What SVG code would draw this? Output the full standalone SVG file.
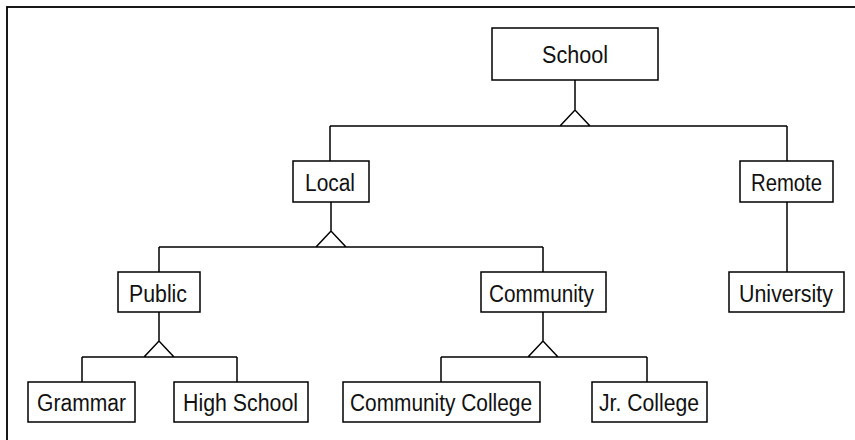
<svg xmlns="http://www.w3.org/2000/svg" width="855" height="440" viewBox="0 0 855 440">
<style>
.box{fill:#fff;stroke:#000;stroke-width:1.5}
.lbl{font-family:"Liberation Sans",Arial,sans-serif;font-size:23px;fill:#111;text-anchor:middle}
.ln{fill:none;stroke:#000;stroke-width:1.5}
</style>
<rect x="7" y="7" width="870" height="450" fill="#fff" stroke="#000" stroke-width="1.8"/>
<g id="connectors" class="ln">
<path d="M575 80V110M560 126L575 110L590 126M330 126H787M330 126V161M787 126V161"/>
<path d="M331 202V231M316 247L331 231L346 247M159 247H543M159 247V272M543 247V272"/>
<path d="M787 202V272"/>
<path d="M159 312V341M144 357L159 341L174 357M82 357H237M82 357V382M237 357V382"/>
<path d="M543 312V341M528 357L543 341L558 357M441 357H647M441 357V382M647 357V382"/>
</g>
<g id="school"><rect class="box" x="492" y="28" width="166" height="52"/><text class="lbl" x="575" y="63" textLength="66" lengthAdjust="spacingAndGlyphs">School</text></g>
<g id="local"><rect class="box" x="293" y="161" width="76" height="41"/><text class="lbl" x="330" y="191" textLength="50" lengthAdjust="spacingAndGlyphs">Local</text></g>
<g id="remote"><rect class="box" x="740" y="161" width="93" height="41"/><text class="lbl" x="786.5" y="191" textLength="71" lengthAdjust="spacingAndGlyphs">Remote</text></g>
<g id="public"><rect class="box" x="118" y="272" width="82" height="40"/><text class="lbl" x="158" y="302" textLength="58" lengthAdjust="spacingAndGlyphs">Public</text></g>
<g id="community"><rect class="box" x="481" y="272" width="125" height="40"/><text class="lbl" x="541.5" y="302" textLength="105" lengthAdjust="spacingAndGlyphs">Community</text></g>
<g id="university"><rect class="box" x="729" y="272" width="115" height="40"/><text class="lbl" x="786" y="302" textLength="94" lengthAdjust="spacingAndGlyphs">University</text></g>
<g id="grammar"><rect class="box" x="28" y="382" width="107" height="40"/><text class="lbl" x="81.5" y="411" textLength="89" lengthAdjust="spacingAndGlyphs">Grammar</text></g>
<g id="highschool"><rect class="box" x="174" y="382" width="134" height="40"/><text class="lbl" x="240.5" y="411" textLength="115" lengthAdjust="spacingAndGlyphs">High School</text></g>
<g id="communitycollege"><rect class="box" x="343" y="382" width="197" height="40"/><text class="lbl" x="441" y="411" textLength="182" lengthAdjust="spacingAndGlyphs">Community College</text></g>
<g id="jrcollege"><rect class="box" x="592" y="382" width="115" height="40"/><text class="lbl" x="649" y="411" textLength="100" lengthAdjust="spacingAndGlyphs">Jr. College</text></g>
</svg>
